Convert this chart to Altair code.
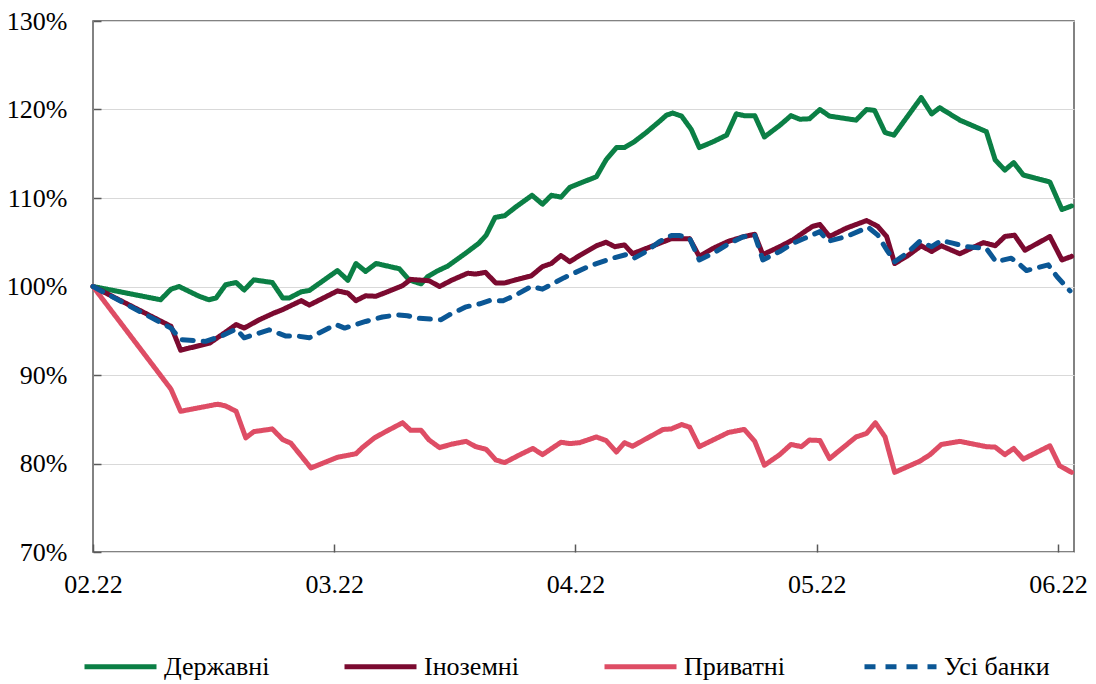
import json
import altair as alt
import pandas as pd

# ---------------- data ----------------
series_names = ["Державні", "Іноземні", "Приватні", "Усі банки"]
series_colors = ["#0b7f45", "#7b0a30", "#de4d65", "#0b5795"]
series_dash = [[1, 0], [1, 0], [1, 0], [11, 10]]

x_tick_days = [0, 30, 60, 90, 120]
x_tick_labels = ["02.22", "03.22", "04.22", "05.22", "06.22"]
y_ticks = [70, 80, 90, 100, 110, 120, 130]

derzh_day = [0.0, 8.4, 9.7, 10.7, 13.2, 14.4, 15.3, 16.5, 17.8, 18.8, 20.0, 22.3, 23.6, 24.4,
             25.9, 26.9, 30.4, 31.7, 32.7, 33.9, 35.2, 38.1, 39.3, 40.8, 41.6, 42.7, 44.1, 46.4,
             48.0, 48.9, 50.0, 51.2, 52.6, 54.6, 55.9, 57.0, 58.2, 59.3, 60.5, 62.6, 63.8, 65.1,
             66.1, 67.3, 68.8, 70.5, 71.3, 72.1, 73.2, 74.4, 75.4, 77.1, 78.8, 80.0, 81.0, 82.3,
             83.5, 85.4, 86.8, 87.9, 89.1, 90.4, 91.6, 94.9, 96.2, 97.2, 98.5, 99.6, 103.0, 104.3,
             105.3, 107.8, 111.1, 112.2, 113.4, 114.5, 115.7, 119.0, 120.5, 121.7]
derzh_val = [100.0, 98.5, 99.7, 100.0, 98.9, 98.5, 98.7, 100.2, 100.45, 99.6, 100.75, 100.45, 98.7, 98.7,
             99.4, 99.55, 101.8, 100.7, 102.6, 101.7, 102.6, 102.0, 100.75, 100.3, 101.1, 101.7, 102.3, 103.8,
             104.9, 105.8, 107.8, 108.0, 109.0, 110.3, 109.3, 110.3, 110.1, 111.2, 111.65, 112.4, 114.3, 115.7,
             115.7, 116.35, 117.4, 118.7, 119.35, 119.6, 119.25, 117.75, 115.7, 116.35, 117.1, 119.5, 119.3, 119.3,
             116.9, 118.2, 119.3, 118.9, 118.95, 120.0, 119.25, 118.8, 120.0, 119.9, 117.4, 117.1, 121.35, 119.5,
             120.2, 118.8, 117.5, 114.3, 113.15, 114.0, 112.6, 111.8, 108.7, 109.1]

inoz_day = [0.0, 9.7, 10.9, 14.5, 16.1, 17.8, 18.8, 20.7, 22.5, 23.6, 25.9, 26.9, 30.4, 31.7,
            32.7, 33.9, 35.2, 36.6, 38.5, 39.5, 41.8, 43.1, 44.7, 46.6, 47.6, 48.8, 50.1, 51.2,
            52.6, 54.5, 55.9, 57.0, 58.2, 59.3, 60.5, 62.6, 63.8, 64.9, 66.1, 67.1, 68.8, 70.5,
            71.9, 74.2, 75.4, 77.1, 79.0, 80.8, 82.3, 83.3, 85.4, 87.1, 88.5, 89.5, 90.4, 91.6,
            93.7, 96.2, 97.6, 98.7, 99.7, 101.2, 103.0, 104.3, 105.5, 107.8, 110.7, 112.2, 113.4,
            114.6, 115.9, 119.0, 120.5, 121.7]
inoz_val = [100.0, 95.5, 92.8, 93.6, 94.6, 95.7, 95.3, 96.25, 97.0, 97.4, 98.4, 97.9, 99.5, 99.25,
            98.4, 98.95, 98.9, 99.4, 100.1, 100.8, 100.65, 100.0, 100.75, 101.5, 101.4, 101.6, 100.4, 100.4,
            100.75, 101.2, 102.25, 102.6, 103.5, 102.8, 103.5, 104.6, 105.0, 104.5, 104.7, 103.7, 104.3, 104.9,
            105.4, 105.4, 103.4, 104.3, 105.1, 105.6, 105.9, 103.6, 104.5, 105.3, 106.2, 106.8, 107.0, 105.65,
            106.6, 107.45, 106.8, 105.65, 102.6, 103.4, 104.6, 103.95, 104.6, 103.7, 104.95, 104.6, 105.65,
            105.8, 104.1, 105.65, 103.0, 103.4]

pryv_day = [0.0, 9.7, 10.9, 15.5, 16.5, 17.8, 19.0, 20.0, 22.3, 23.6, 24.6, 27.1, 30.4, 32.7,
            33.5, 35.0, 36.6, 38.5, 39.5, 40.8, 41.8, 43.1, 44.7, 46.4, 47.6, 48.9, 50.1, 51.2,
            53.1, 54.7, 55.9, 58.2, 59.3, 60.5, 62.6, 63.8, 65.1, 66.1, 67.1, 68.8, 70.9, 71.9,
            73.2, 74.2, 75.4, 77.1, 79.0, 81.0, 82.3, 83.5, 85.4, 86.8, 88.1, 89.1, 90.4, 91.6,
            94.9, 96.2, 97.3, 98.5, 99.7, 102.8, 104.1, 105.5, 107.8, 111.1, 112.2, 113.4, 114.5,
            115.7, 119.0, 120.2, 121.7]
pryv_val = [100.0, 88.4, 85.9, 86.7, 86.5, 85.9, 82.9, 83.6, 83.9, 82.7, 82.3, 79.5, 80.7, 81.1,
            81.8, 82.9, 83.7, 84.6, 83.75, 83.75, 82.65, 81.8, 82.2, 82.5, 81.9, 81.6, 80.4, 80.1,
            81.0, 81.7, 81.0, 82.4, 82.25, 82.35, 83.0, 82.6, 81.3, 82.35, 81.95, 82.8, 83.85, 83.9,
            84.4, 84.1, 81.9, 82.65, 83.5, 83.85, 82.5, 79.8, 81.0, 82.15, 81.9, 82.65, 82.6, 80.55,
            83.0, 83.4, 84.6, 83.0, 79.0, 80.25, 81.0, 82.15, 82.5, 81.9, 81.85, 81.0, 81.7,
            80.5, 82.0, 79.75, 79.0]

usi_day = [0.0, 9.7, 10.9, 14.0, 16.1, 17.8, 18.8, 21.9, 24.0, 25.4, 26.9, 30.2, 31.3, 33.9,
           36.0, 37.9, 39.1, 40.6, 43.3, 44.3, 46.4, 48.1, 49.3, 51.0, 52.6, 54.5, 55.9, 58.6,
           61.7, 64.6, 66.3, 67.3, 68.8, 70.5, 71.9, 73.0, 74.2, 75.4, 77.1, 79.0, 80.8, 82.3,
           83.3, 85.4, 87.1, 88.5, 90.4, 91.4, 93.7, 96.4, 97.6, 98.7, 99.7, 101.2, 102.8, 104.3,
           105.5, 106.9, 108.6, 111.1, 112.3, 114.2, 115.3, 116.1, 118.8, 119.9, 121.5]
usi_val = [100.0, 95.3, 94.0, 93.8, 94.45, 95.2, 94.2, 95.1, 94.4, 94.4, 94.2, 95.7, 95.3, 96.05,
           96.55, 96.8, 96.7, 96.4, 96.25, 96.8, 97.7, 98.05, 98.4, 98.4, 99.05, 100.0, 99.7, 101.0,
           102.3, 103.2, 103.6, 103.2, 103.95, 105.1, 105.75, 105.75, 105.45, 103.0, 103.75, 104.8, 105.6, 105.8,
           103.0, 103.95, 104.9, 105.45, 106.2, 105.1, 105.65, 106.7, 105.8, 104.15, 102.8, 103.75, 105.1, 104.5,
           105.2, 104.9, 104.5, 104.3, 102.8, 103.2, 102.45, 101.8, 102.45, 101.1, 99.5]

# ---------------- build the table ----------------
rows = []
for k, (name, days, vals) in enumerate(zip(series_names,
                                           [derzh_day, inoz_day, pryv_day, usi_day],
                                           [derzh_val, inoz_val, pryv_val, usi_val])):
    for d, v in zip(days, vals):
        rows.append({"series": name, "day": d, "value": v, "k": k})
df = pd.DataFrame(rows)

FONT = "Liberation Serif"
label_expr = json.dumps(x_tick_labels) + "[round(datum.value / 30)]"

legend = alt.Legend(
    orient="none", legendX=-11, legendY=607, direction="horizontal", columns=4,
    gridAlign="all", columnPadding=64, symbolType="stroke", symbolSize=5184,
    symbolStrokeWidth=5, labelFont=FONT, labelFontSize=26, labelColor="black",
    labelOffset=5, labelLimit=400,
)

chart = alt.Chart(df).mark_line(strokeWidth=5, strokeJoin="round", strokeCap="round").encode(
    x=alt.X("day:Q", title=None,
            scale=alt.Scale(domain=[0, 122], nice=False, zero=False),
            axis=alt.Axis(values=x_tick_days, labelExpr=label_expr, grid=False, domain=False,
                          tickSize=8, offset=-8, tickColor="#595959", tickWidth=1.5,
                          labelFlush=False,
                          labelFont=FONT, labelFontSize=26, labelColor="black",
                          labelPadding=19)),
    y=alt.Y("value:Q", title=None,
            scale=alt.Scale(domain=[70, 130], nice=False, zero=False),
            axis=alt.Axis(values=y_ticks, labelExpr="datum.value + '%'", grid=True,
                          gridColor="#d9d9d9", gridWidth=1.2, domain=False,
                          tickSize=8, offset=-8, tickColor="#595959", tickWidth=1.5,
                          labelFlush=False,
                          labelFont=FONT, labelFontSize=26, labelColor="black",
                          labelPadding=26)),
    color=alt.Color("series:N", title=None,
                    scale=alt.Scale(domain=series_names, range=series_colors),
                    legend=legend),
    strokeDash=alt.StrokeDash("series:N", title=None,
                              scale=alt.Scale(domain=series_names, range=series_dash),
                              legend=legend),
    order=alt.Order("day:Q"),
).properties(
    width=981, height=531,
    autosize=alt.AutoSizeParams(type="none"),
    padding={"left": 85, "top": 13, "right": 14, "bottom": 134},
).configure_view(stroke="#595959", strokeWidth=1.5)

chart.save("out.html", embed_options={"renderer": "svg", "actions": False})
